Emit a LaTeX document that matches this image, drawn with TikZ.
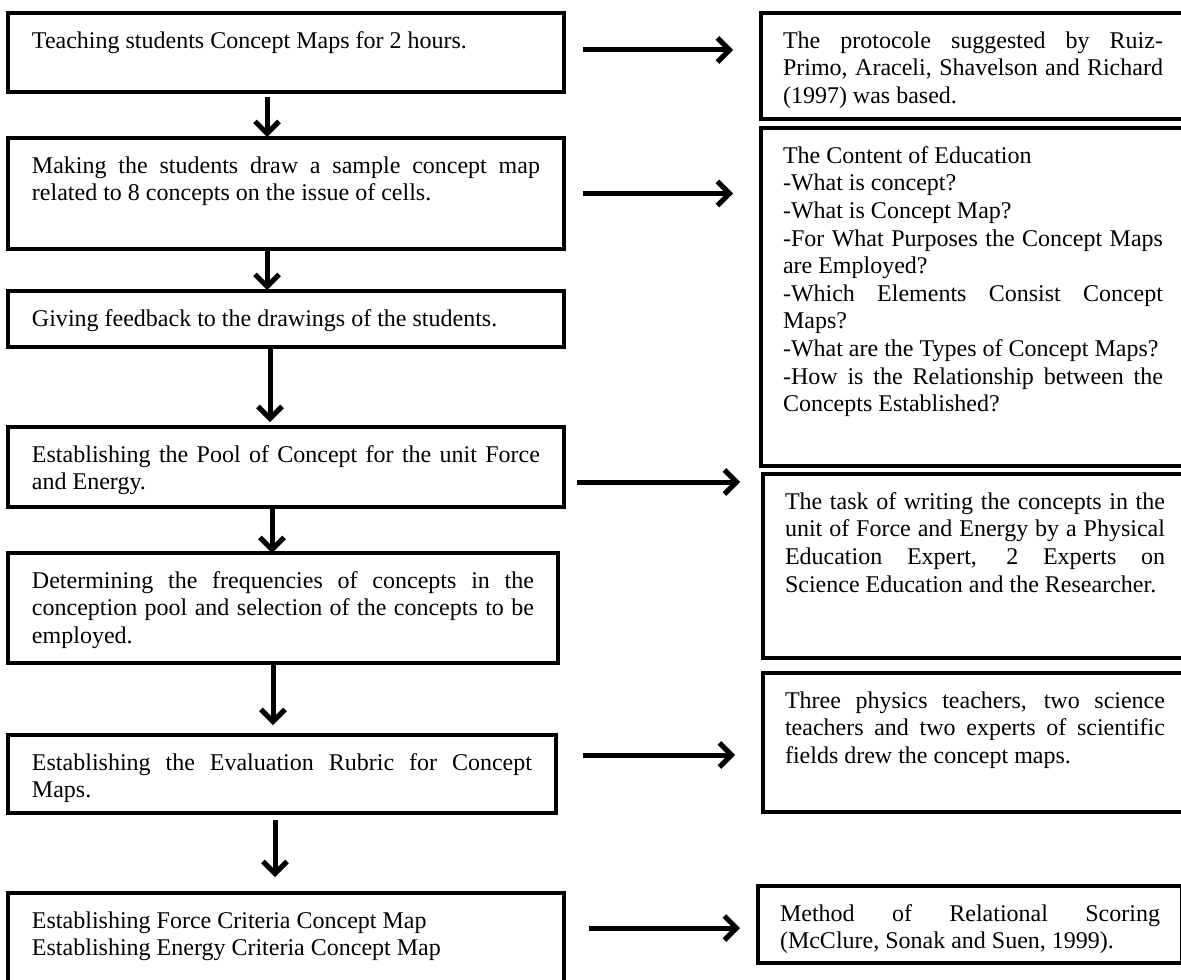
\documentclass[tikz,border=0pt]{standalone}
\usepackage{fontspec}
\setmainfont{Liberation Serif}
\usetikzlibrary{arrows.meta}
\hyphenpenalty=10000
\newcommand{\boxtext}[3]{\parbox[c][#2][t]{#1}{\strut #3}}

\begin{document}
\begin{tikzpicture}[x=0.5pt, y=-0.5pt,
  stage/.style={draw, line width=2.2pt, rectangle, anchor=north west, outer sep=0pt,
    inner xsep=12pt, inner ysep=8pt, font=\fontsize{12pt}{13.8pt}\selectfont},
  note/.style={stage, inner xsep=11pt},
  flow/.style={line width=2.5pt, -{Straight Barb[length=6pt, width=12pt]}}]
\useasboundingbox (0,0) rectangle (1181,979);
\clip (0,0) rectangle (1181,979);
\fill[white] (0,0) rectangle (1181,979);

\node (s1) [stage] at (8,13) {\boxtext{254pt}{23.5pt}{Teaching students Concept Maps for 2 hours.}};
\node (s2) [stage] at (8,138) {\boxtext{254pt}{39.5pt}{Making the students draw a sample concept map\linebreak related to 8 concepts on the issue of cells.}};
\node (s3) [stage] at (8,291) {\boxtext{254pt}{12pt}{Giving feedback to the drawings of the students.}};
\node (s4) [stage] at (8,427) {\boxtext{254pt}{24pt}{Establishing the Pool of Concept for the unit Force\linebreak and Energy.}};
\node (s5) [stage] at (8,553) {\boxtext{251pt}{39pt}{Determining the frequencies of concepts in the\linebreak conception pool and selection of the concepts to be\linebreak employed.}};
\node (s6) [stage] at (8,735) {\boxtext{250pt}{23pt}{Establishing the Evaluation Rubric for Concept\linebreak Maps.}};
\node (s7) [stage] at (8,893) {\boxtext{254pt}{30pt}{Establishing Force Criteria Concept Map\\Establishing Energy Criteria Concept Map}};

\node (n1) [note] at (761,13) {\boxtext{190pt}{37pt}{The protocole suggested by Ruiz-\linebreak Primo, Araceli, Shavelson and Richard\linebreak (1997) was based.}};
\node (n2) [note] at (761,128) {\boxtext{190pt}{153pt}{The Content of Education\\-What is concept?\\-What is Concept Map?\\-For What Purposes the Concept Maps\linebreak are Employed?\\-Which Elements Consist Concept\linebreak Maps?\\-What are the Types of Concept Maps?\\-How is the Relationship between the\linebreak Concepts Established?}};
\node (n3) [note] at (763,474) {\boxtext{190pt}{76pt}{The task of writing the concepts in the\linebreak unit of Force and Energy by a Physical\linebreak Education Expert, 2 Experts on\linebreak Science Education and the Researcher.}};
\node (n4) [note] at (763,673) {\boxtext{190pt}{53.5pt}{Three physics teachers, two science\linebreak teachers and two experts of scientific\linebreak fields drew the concept maps.}};
\node (n5) [note] at (758,886) {\boxtext{190pt}{22.5pt}{Method of Relational Scoring\linebreak (McClure, Sonak and Suen, 1999).}};

\draw[flow, shorten <=2.5pt, shorten >=0.5pt] ([xshift=-9.5pt]s1.south) -- ([xshift=-9.5pt]s2.north);
\draw[flow, shorten >=0.5pt] ([xshift=-9.5pt]s2.south) -- ([xshift=-9.5pt]s3.north);
\draw[flow, shorten >=2.5pt] ([xshift=-8pt]s3.south) -- ([xshift=-8pt]s4.north);
\draw[flow] ([xshift=-7pt]s4.south) -- ([xshift=-7pt]s4.south |- s5.north);
\draw[flow, shorten >=5pt] ([xshift=-5pt]s5.south) -- ([xshift=-5pt]s5.south |- s6.north);
\draw[flow, shorten <=3.5pt, shorten >=8pt] ([xshift=-3.5pt]s6.south) -- ([xshift=-3.5pt]s6.south |- s7.north);

\draw[flow, shorten <=9.5pt, shorten >=14pt] ([yshift=1.25pt]s1.east) -- ([yshift=1.25pt]s1.east -| n1.west);
\draw[flow, shorten <=9.5pt, shorten >=14pt] (s2.east) -- (s2.east -| n2.west);
\draw[flow, shorten <=6.5pt, shorten >=11.5pt] ([yshift=-7.5pt]s4.east) -- ([yshift=-7.5pt]s4.east -| n3.west);
\draw[flow, shorten <=13.5pt, shorten >=14pt] ([yshift=9.5pt]s6.east) -- ([yshift=9.5pt]s6.east -| n4.west);
\draw[flow, shorten <=12.5pt, shorten >=9pt] ([yshift=5.5pt]s7.east) -- ([yshift=5.5pt]s7.east -| n5.west);
\end{tikzpicture}
\end{document}
